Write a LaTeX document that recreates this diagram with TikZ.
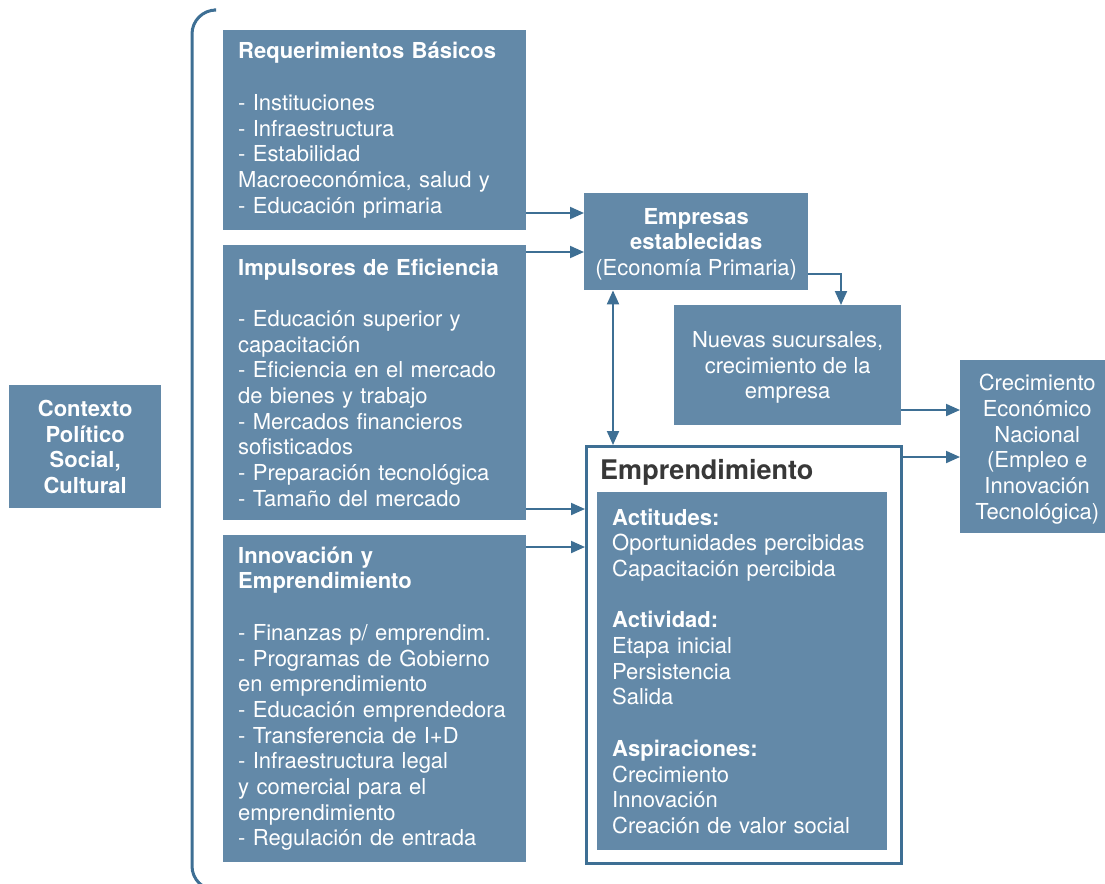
\documentclass[tikz,border=0pt]{standalone}
\usepackage{fontspec}
\setmainfont{TeX Gyre Heros}
\usetikzlibrary{arrows.meta}
\definecolor{boxblue}{HTML}{6389A8}
\definecolor{lineblue}{HTML}{3E6F94}
\definecolor{titlegray}{HTML}{383838}

\begin{document}
\begin{tikzpicture}[x=1pt, y=-1pt,
	every node/.style={font=\fontsize{22}{25.7}\selectfont, text=white},
	blockbox/.style={fill=boxblue, anchor=north west, inner xsep=15pt, inner ysep=0pt, align=left},
	midbox/.style={fill=boxblue, anchor=north west, inner sep=0pt, align=center, text depth=0pt},
	conn/.style={line width=2pt, draw=lineblue},
	>={Triangle[length=14pt, width=12pt]}]
	\useasboundingbox (0,0) rectangle (1105,883);
	\clip (0,0) rectangle (1105,883);
	\draw[lineblue, line width=3pt, rounded corners=24pt] (214,10) -- (192,10) -- (192,890) -- (214,890);
	\node[midbox, minimum width=152pt, minimum height=123pt, font=\fontsize{22}{25.7}\selectfont\bfseries] (ctx) at (9,385) {Contexto\\Político\\Social,\\Cultural};
	\node[blockbox, text width=273pt, minimum height=200pt] (req) at (223,30) {\textbf{Requerimientos Básicos}\\[25.7pt]
		- Instituciones\\- Infraestructura\\- Estabilidad\\Macroeconómica, salud y\\- Educación primaria};
	\node[blockbox, text width=273pt, minimum height=275pt] (imp) at (223,245) {\textbf{Impulsores de Eficiencia}\\[25.7pt]
		- Educación superior y\\capacitación\\- Eficiencia en el mercado\\de bienes y trabajo\\- Mercados financieros\\sofisticados\\- Preparación tecnológica\\- Tamaño del mercado};
	\node[blockbox, text width=273pt, minimum height=327pt] (inn) at (223,535) {\textbf{Innovación y}\\\textbf{Emprendimiento}\\[25.7pt]
		- Finanzas p/ emprendim.\\- Programas de Gobierno\\en emprendimiento\\- Educación emprendedora\\- Transferencia de I+D\\- Infraestructura legal\\y comercial para el\\emprendimiento\\- Regulación de entrada};
	\node[midbox, minimum width=224pt, minimum height=97pt] (emp) at (584,193) {\textbf{Empresas}\\\textbf{establecidas}\\(Economía Primaria)};
	\node[midbox, minimum width=227pt, minimum height=120pt] (nue) at (674,305) {Nuevas sucursales,\\crecimiento de la\\empresa};
	\node[midbox, minimum width=154pt, minimum height=173pt] (cre) at (960,360) {Crecimiento\\Económico\\Nacional\\(Empleo e\\Innovación\\Tecnológica)};
	\node[draw=lineblue, line width=2.5pt, fill=white, anchor=north west, minimum width=315pt, minimum height=417pt, inner sep=0pt] (ent) at (585,445) {};
	\node[anchor=west, inner sep=0pt, text=titlegray, font=\fontsize{27}{30}\selectfont\bfseries] (enttitle) at (600,472) {Emprendimiento};
	\node[blockbox, text width=260pt, minimum height=358pt] (entin) at (597,492) {\textbf{Actitudes:}\\Oportunidades percibidas\\Capacitación percibida\\[25.7pt]
		\textbf{Actividad:}\\Etapa inicial\\Persistencia\\Salida\\[25.7pt]
		\textbf{Aspiraciones:}\\Crecimiento\\Innovación\\Creación de valor social};
	\draw[conn, ->] (req.east |- 0,213) -- (emp.west |- 0,213);
	\draw[conn, ->] (imp.east |- 0,252) -- (emp.west |- 0,252);
	\draw[conn, ->] (imp.east |- 0,509) -- (ent.west |- 0,509);
	\draw[conn, ->] (inn.east |- 0,547) -- (ent.west |- 0,547);
	\draw[conn, <->] (emp.south -| 613,0) -- (ent.north -| 613,0);
	\draw[conn, ->] (emp.east |- 0,274) -| (nue.north -| 841,0);
	\draw[conn, ->] (nue.east |- 0,410) -- (cre.west |- 0,410);
	\draw[conn, ->] (ent.east |- 0,457) -- (cre.west |- 0,457);
\end{tikzpicture}
\end{document}
